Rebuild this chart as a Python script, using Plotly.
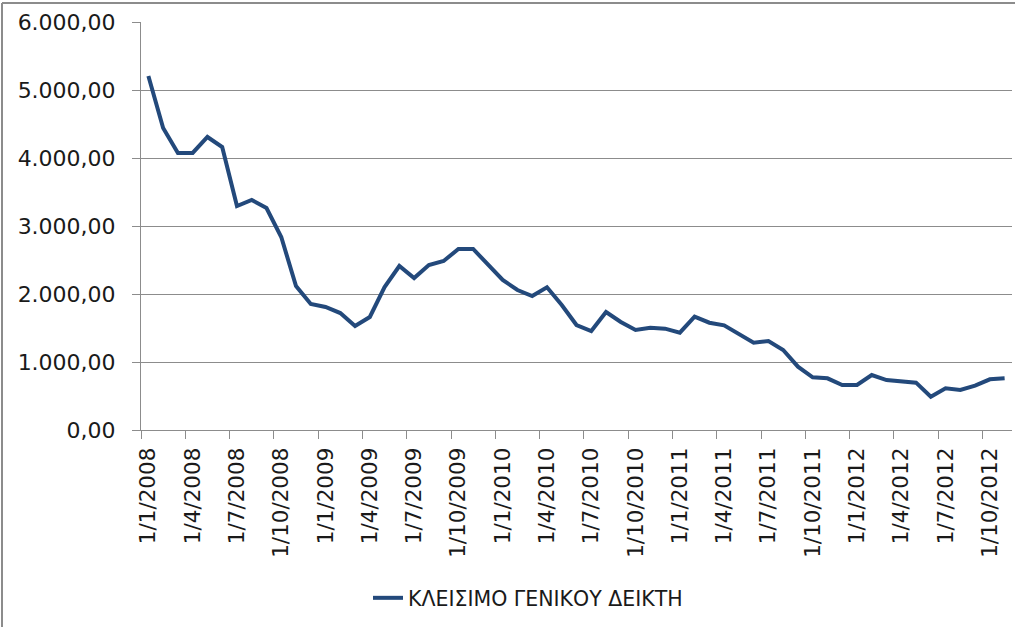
import plotly.graph_objects as go

# ---- data ----
months = [f"1/{m}/{y}" for y in range(2008, 2013) for m in range(1, 13)][:59]
values = [5206, 4441, 4074, 4074, 4309, 4162, 3294, 3382, 3265, 2838,
          2118, 1853, 1809, 1720, 1529, 1662, 2103, 2412, 2235, 2426,
          2485, 2662, 2662, 2426, 2206, 2059, 1970, 2098, 1838, 1544,
          1456, 1735, 1588, 1470, 1505, 1490, 1431, 1667, 1578, 1539,
          1412, 1284, 1309, 1176, 931, 775, 760, 662, 662, 809,
          735, 711, 696, 490, 613, 588, 652, 745, 760]
series_name = "ΚΛΕΙΣΙΜΟ ΓΕΝΙΚΟΥ ΔΕΙΚΤΗ"
y_ticks = [0, 1000, 2000, 3000, 4000, 5000, 6000]
y_tick_text = ["0,00", "1.000,00", "2.000,00", "3.000,00", "4.000,00", "5.000,00", "6.000,00"]

W, H = 1015, 627
ML, MR, MT, MB = 141, 3, 22, 197
FONT = "DejaVu Sans"
TXT = "#1a1a1a"
GRID = "#8c8c8c"

fig = go.Figure()
fig.add_trace(go.Scatter(
    x=months, y=values, mode="lines", name=series_name,
    line=dict(color="#23497b", width=4),
))

pw = W - ML - MR
ph = H - MT - MB
fig.update_layout(
    width=W, height=H,
    margin=dict(l=ML, r=MR, t=MT, b=MB, autoexpand=False),
    plot_bgcolor="white", paper_bgcolor="white",
    font=dict(family=FONT, size=21, color=TXT),
    showlegend=True,
    legend=dict(orientation="h", x=(368 - ML) / pw, xanchor="left",
                y=-(598 - (H - MB)) / ph, yanchor="middle",
                font=dict(family=FONT, size=20.5, color=TXT)),
    xaxis=dict(
        type="category", categoryorder="array", categoryarray=months,
        range=[-0.5, len(months) - 0.5], automargin=False,
        dtick=3, tickson="boundaries", ticks="outside", ticklen=8,
        tickcolor=GRID, tickangle=-90, ticklabelstandoff=8,
        tickfont=dict(family=FONT, size=21.5, color=TXT),
        showline=True, linecolor=GRID, linewidth=1,
        showgrid=False, zeroline=False,
    ),
    yaxis=dict(
        range=[0, 6000], tickvals=y_ticks, ticktext=y_tick_text,
        automargin=False,
        ticks="outside", ticklen=8, tickcolor=GRID,
        tickfont=dict(family=FONT, size=22, color=TXT),
        ticklabelstandoff=12,
        showline=True, linecolor=GRID, linewidth=1,
        showgrid=True, gridcolor=GRID, gridwidth=1,
        zeroline=False,
    ),
    shapes=[
        dict(type="line", xref="paper", yref="paper",
             x0=(2 - ML) / pw, x1=(2 - ML) / pw,
             y0=(H - MB - 3) / ph, y1=(H - MB - H) / ph,
             line=dict(color="#8c8c8c", width=2)),
        dict(type="line", xref="paper", yref="paper",
             x0=(2 - ML) / pw, x1=(W - ML) / pw,
             y0=(H - MB - 3) / ph, y1=(H - MB - 3) / ph,
             line=dict(color="#8c8c8c", width=2)),
    ],
)

fig.write_html("out.html", config={"displayModeBar": False},
               post_script="document.body.style.margin='0';")
